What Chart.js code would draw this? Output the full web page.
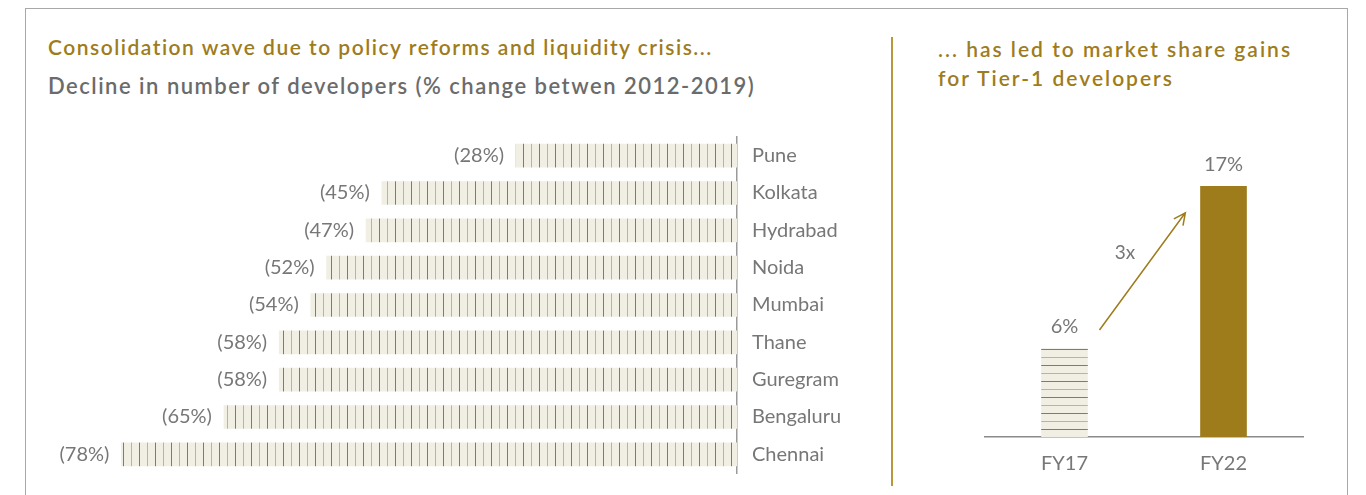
<!DOCTYPE html>
<html>
<head>
<meta charset="utf-8">
<script src="https://cdn.jsdelivr.net/npm/chart.js@4.4.1/dist/chart.umd.min.js"></script>
<style>
  html, body { margin: 0; padding: 0; background: #fff; }
  body { width: 1366px; height: 495px; position: relative; overflow: hidden; font-family: Lato, "Noto Sans", sans-serif; }
  .frame { position: absolute; left: 25px; top: 8px; width: 1323px; height: 500px; border: 1px solid #a8a8a8; box-sizing: border-box; }
  .divider { position: absolute; left: 891px; top: 37px; width: 2px; height: 449px; background: #b8983a; }
  .t { position: absolute; white-space: nowrap; font-weight: 600; }
  .gold { color: #9e7c1c; }
  .grey { color: #6b6b6b; }
  #left { position: absolute; left: 40px; top: 110px; }
  #right { position: absolute; left: 900px; top: 120px; }
</style>
</head>
<body>
<div class="frame"></div>
<div class="divider"></div>
<div class="t gold" style="left:48px; top:34px; font-size:21px; letter-spacing:1.5px;">Consolidation wave due to policy reforms and liquidity crisis...</div>
<div class="t grey" style="left:48px; top:72px; font-size:22px; letter-spacing:1.5px;">Decline in number of developers (% change betwen 2012-2019)</div>
<div class="t gold" style="left:938px; top:34px; font-size:21px; line-height:29px; letter-spacing:2px;">... has led to market share gains<br>for Tier-1 developers</div>
<canvas id="left" width="840" height="390"></canvas>
<canvas id="right" width="466" height="375"></canvas>
<script>
// données
const villes = ['Pune', 'Kolkata', 'Hydrabad', 'Noida', 'Mumbai', 'Thane', 'Guregram', 'Bengaluru', 'Chennai'];
const baisse = [28, 45, 47, 52, 54, 58, 58, 65, 78];
const annees = ['FY17', 'FY22'];
const partMarche = [6, 17];
const multiple = '3x';

const OR = '#9e7c1c';
const OR_CLAIR = '#c8b47a';
const CREME = '#f1efe4';
const GRIS = '#777777';
const POLICE = 'Lato, "Noto Sans", sans-serif';

// motif rayé (vertical ou horizontal)
function motif(vertical) {
    const c = document.createElement('canvas');
    c.width = vertical ? 16 : 4;
    c.height = vertical ? 4 : 16;
    const g = c.getContext('2d');
    g.fillStyle = CREME;
    g.fillRect(0, 0, c.width, c.height);
    if (vertical) {
        g.fillStyle = OR; g.fillRect(3, 0, 1, 4);
        g.fillStyle = OR_CLAIR; g.fillRect(11, 0, 1, 4);
    } else {
        g.fillStyle = OR; g.fillRect(0, 5, 4, 1);
        g.fillStyle = OR_CLAIR; g.fillRect(0, 13, 4, 1);
    }
    return g.createPattern(c, 'repeat');
}

// étiquettes des valeurs
const etiquettes = {
    id: 'etiquettes',
    afterDatasetsDraw(chart, args, opts) {
        const ctx = chart.ctx;
        const meta = chart.getDatasetMeta(0);
        ctx.save();
        ctx.fillStyle = GRIS;
        ctx.font = '20px ' + POLICE;
        meta.data.forEach((el, i) => {
            const v = chart.data.datasets[0].data[i];
            if (opts.horizontal) {
                ctx.textAlign = 'right';
                ctx.textBaseline = 'middle';
                ctx.fillText('(' + v + '%)', el.x - 12, el.y);
            } else {
                ctx.textAlign = 'center';
                ctx.textBaseline = 'middle';
                ctx.fillText(v + '%', el.x, el.y - 22);
            }
        });
        ctx.restore();
    }
};

new Chart(document.getElementById('left'), {
    type: 'bar',
    data: {
        labels: villes,
        datasets: [{
            data: baisse,
            backgroundColor: motif(true),
            barThickness: 23
        }]
    },
    options: {
        indexAxis: 'y',
        responsive: false,
        animation: false,
        layout: { padding: { left: 34, top: 5, bottom: 6, right: 0 } },
        plugins: { legend: { display: false }, tooltip: { enabled: false }, etiquettes: { horizontal: true } },
        scales: {
            x: { display: false, reverse: true, min: 0, max: 84 },
            y: {
                position: 'right',
                grid: { display: false, drawTicks: false },
                border: { display: true, color: '#9a9a9a', width: 1.5 },
                ticks: { color: GRIS, padding: 15, font: { size: 20, family: POLICE }, crossAlign: 'near' },
                afterFit: s => { s.width = 143; }
            }
        }
    },
    plugins: [etiquettes]
});

// flèche "3x"
const fleche = {
    id: 'fleche',
    afterDatasetsDraw(chart) {
        const ctx = chart.ctx;
        const x = chart.scales.x, y = chart.scales.y;
        const x1 = x.getPixelForValue(0.22), y1 = y.getPixelForValue(7.25);
        const x2 = x.getPixelForValue(0.76), y2 = y.getPixelForValue(15.2);
        const a = Math.atan2(y2 - y1, x2 - x1);
        ctx.save();
        ctx.strokeStyle = OR;
        ctx.lineWidth = 1.5;
        ctx.beginPath();
        ctx.moveTo(x1, y1); ctx.lineTo(x2, y2);
        ctx.moveTo(x2 - 13 * Math.cos(a - 0.45), y2 - 13 * Math.sin(a - 0.45));
        ctx.lineTo(x2, y2);
        ctx.lineTo(x2 - 13 * Math.cos(a + 0.45), y2 - 13 * Math.sin(a + 0.45));
        ctx.stroke();
        ctx.fillStyle = GRIS;
        ctx.font = '19px ' + POLICE;
        ctx.textAlign = 'center';
        ctx.textBaseline = 'middle';
        ctx.fillText(multiple, x.getPixelForValue(0.38), y.getPixelForValue(12.5));
        ctx.restore();
    }
};

new Chart(document.getElementById('right'), {
    type: 'bar',
    data: {
        labels: annees,
        datasets: [{
            data: partMarche,
            backgroundColor: [motif(false), OR],
            barThickness: 46
        }]
    },
    options: {
        responsive: false,
        animation: false,
        layout: { padding: { left: 85, right: 63, top: 22, bottom: 0 } },
        plugins: { legend: { display: false }, tooltip: { enabled: false }, etiquettes: { horizontal: false } },
        scales: {
            y: { display: false, min: 0, max: 20 },
            x: {
                grid: { display: false, drawTicks: false },
                border: { display: true, color: '#8a8a8a', width: 1.5 },
                ticks: { color: GRIS, padding: 15, font: { size: 20, family: POLICE } },
                afterFit: s => { s.height = 58; }
            }
        }
    },
    plugins: [etiquettes, fleche]
});
</script>
</body>
</html>
